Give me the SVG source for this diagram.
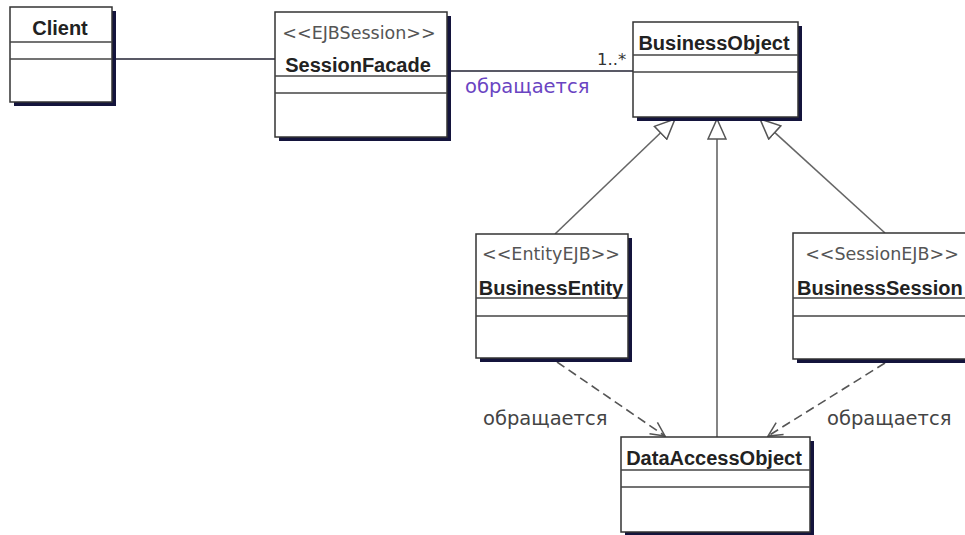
<svg xmlns="http://www.w3.org/2000/svg" width="965" height="535" viewBox="0 0 965 535">
<style>
.shadow{fill:#14143c}
.box{fill:#fff;stroke:#333;stroke-width:1.5}
.sep{stroke:#444;stroke-width:1.5}
.name{font-family:"Liberation Sans",Arial,sans-serif;font-weight:bold;font-size:20px;fill:#222;text-anchor:middle}
.stereo{font-family:"DejaVu Sans",Verdana,sans-serif;font-size:17.5px;fill:#555;text-anchor:middle}
.lbl{font-family:"DejaVu Sans",Verdana,sans-serif;font-size:19.5px;fill:#444}
.assoc{stroke:#223;stroke-width:1.6;fill:none}
.gen{stroke:#666;stroke-width:1.6;fill:none}
.dep{stroke:#555;stroke-width:1.6;fill:none;stroke-dasharray:9 5}
</style>
<defs>
<marker id="tri" viewBox="0 0 22 20" refX="21" refY="10" markerWidth="22" markerHeight="20" markerUnits="userSpaceOnUse" orient="auto">
<path d="M1,1 L21,10 L1,19 Z" fill="#fff" stroke="#555" stroke-width="1.5"/>
</marker>
<marker id="open" viewBox="0 0 16 16" refX="15" refY="8" markerWidth="16" markerHeight="16" markerUnits="userSpaceOnUse" orient="auto">
<path d="M1,1 L15,8 L1,15" fill="none" stroke="#555" stroke-width="1.5"/>
</marker>
</defs>
<rect width="965" height="535" fill="#fff"/>
<g id="connectors">
<line class="assoc" x1="112" y1="59" x2="275" y2="59"/>
<line class="assoc" x1="447" y1="71" x2="633" y2="71"/>
<line class="gen" x1="555" y1="234" x2="675" y2="119" marker-end="url(#tri)"/>
<line class="gen" x1="717" y1="437" x2="717" y2="119" marker-end="url(#tri)"/>
<line class="gen" x1="885" y1="233" x2="760" y2="119" marker-end="url(#tri)"/>
<line class="dep" x1="557" y1="362" x2="665" y2="436" marker-end="url(#open)"/>
<line class="dep" x1="885" y1="363" x2="768" y2="436" marker-end="url(#open)"/>
<text x="597" y="65" font-family="DejaVu Sans,Verdana,sans-serif" font-size="16.5" fill="#333">1..*</text>
<text x="465" y="93" class="lbl" style="fill:#6a44c2">обращается</text>
<text x="483" y="425" class="lbl">обращается</text>
<text x="827" y="425" class="lbl">обращается</text>
</g>
<g id="Client">
<rect class="shadow" x="14" y="11" width="102" height="95"/>
<rect class="box" x="10" y="7" width="102" height="95"/>
<line class="sep" x1="10" y1="42" x2="112" y2="42"/>
<line class="sep" x1="10" y1="59" x2="112" y2="59"/>
<text class="name" x="60" y="35">Client</text>
</g>
<g id="SessionFacade">
<rect class="shadow" x="279" y="16" width="172" height="125"/>
<rect class="box" x="275" y="12" width="172" height="125"/>
<line class="sep" x1="275" y1="76" x2="447" y2="76"/>
<line class="sep" x1="275" y1="93" x2="447" y2="93"/>
<text class="stereo" x="359" y="39">&lt;&lt;EJBSession&gt;&gt;</text>
<text class="name" x="358" y="72">SessionFacade</text>
</g>
<g id="BusinessObject">
<rect class="shadow" x="637" y="26" width="165" height="95"/>
<rect class="box" x="633" y="22" width="165" height="95"/>
<line class="sep" x1="633" y1="55" x2="798" y2="55"/>
<line class="sep" x1="633" y1="72" x2="798" y2="72"/>
<text class="name" x="714" y="50">BusinessObject</text>
</g>
<g id="BusinessEntity">
<rect class="shadow" x="480" y="238" width="152" height="124"/>
<rect class="box" x="476" y="234" width="152" height="124"/>
<line class="sep" x1="476" y1="298" x2="628" y2="298"/>
<line class="sep" x1="476" y1="316" x2="628" y2="316"/>
<text class="stereo" x="551" y="260">&lt;&lt;EntityEJB&gt;&gt;</text>
<text class="name" x="551" y="295">BusinessEntity</text>
</g>
<g id="BusinessSession">
<rect class="shadow" x="797" y="237" width="178" height="126"/>
<rect class="box" x="793" y="233" width="178" height="126"/>
<line class="sep" x1="793" y1="298" x2="971" y2="298"/>
<line class="sep" x1="793" y1="316" x2="971" y2="316"/>
<text class="stereo" x="882" y="260">&lt;&lt;SessionEJB&gt;&gt;</text>
<text class="name" x="797" y="295" style="text-anchor:start">BusinessSession</text>
</g>
<g id="DataAccessObject">
<rect class="shadow" x="625" y="441" width="189" height="95"/>
<rect class="box" x="621" y="437" width="189" height="95"/>
<line class="sep" x1="621" y1="470" x2="810" y2="470"/>
<line class="sep" x1="621" y1="487" x2="810" y2="487"/>
<text class="name" x="714" y="465">DataAccessObject</text>
</g>
</svg>
